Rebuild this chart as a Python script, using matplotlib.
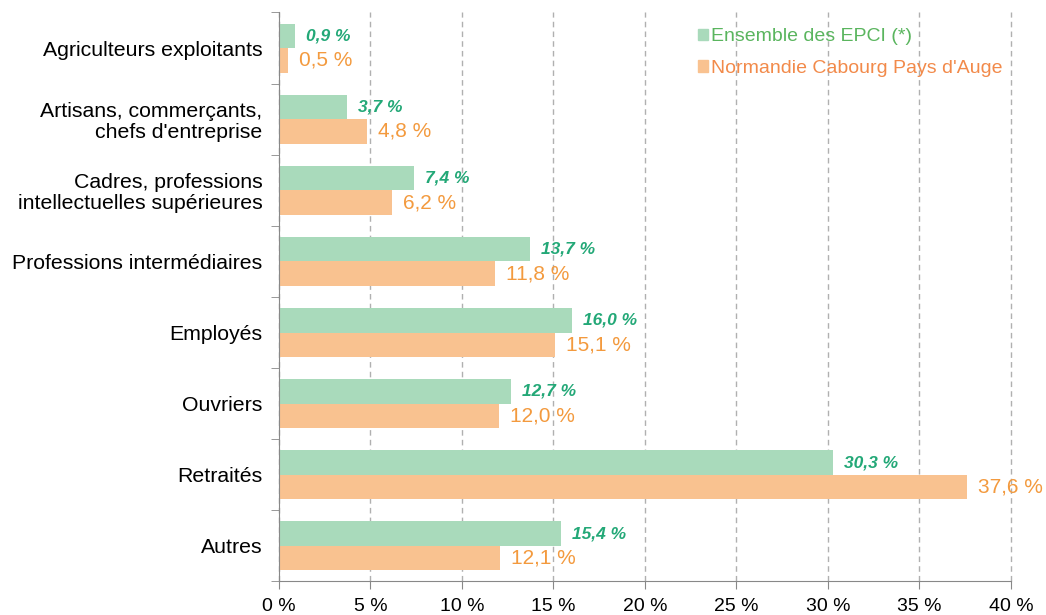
import numpy as np
import matplotlib.pyplot as plt
from matplotlib.patches import Patch

categories = ["Agriculteurs exploitants", "Artisans, commerçants,\nchefs d'entreprise",
              "Cadres, professions\nintellectuelles supérieures", "Professions intermédiaires",
              "Employés", "Ouvriers", "Retraités", "Autres"]
epci = [0.9, 3.7, 7.4, 13.7, 16.0, 12.7, 30.3, 15.4]
ncpa = [0.5, 4.8, 6.2, 11.8, 15.1, 12.0, 37.6, 12.1]
xticks = [0, 5, 10, 15, 20, 25, 30, 35, 40]

plt.rcParams['font.family'] = ['Liberation Sans', 'DejaVu Sans']

fig = plt.figure(figsize=(10.46, 6.15), dpi=100)
ax = fig.add_axes([0.2667, 0.0545, 0.6998, 0.9252])

green_bar = '#a9dabb'
orange_bar = '#f9c290'
green_txt = '#23a877'
orange_txt = '#f39a3e'

y = np.arange(len(categories))
h = 0.345
ax.barh(y - h / 2, epci, height=h, color=green_bar)
ax.barh(y + h / 2, ncpa, height=h, color=orange_bar)

for i in range(len(categories)):
    ax.text(epci[i] + 0.6, y[i] - h / 2, f"{epci[i]:.1f} %".replace('.', ','),
            va='center', ha='left', color=green_txt, fontsize=12.5,
            style='italic', fontweight='bold')
    ax.text(ncpa[i] + 0.6, y[i] + h / 2, f"{ncpa[i]:.1f} %".replace('.', ','),
            va='center', ha='left', color=orange_txt, fontsize=15)

ax.set_xlim(0, 40)
ax.set_ylim(len(categories) - 0.5, -0.5)
ax.set_xticks(xticks)
ax.set_xticklabels([f"{t} %" for t in xticks], fontsize=14)
ax.set_yticks(y)
ax.set_yticklabels(categories, fontsize=15.3, linespacing=1.1)
ax.tick_params(axis='y', length=0, pad=12)
ax.set_yticks(np.arange(-0.5, len(categories) + 0.5, 1), minor=True)
ax.tick_params(axis='y', which='minor', length=6, color='#888888')
ax.tick_params(axis='x', length=6, color='#888888', pad=6)

for s in ['top', 'right']:
    ax.spines[s].set_visible(False)
ax.spines['left'].set_color('#888888')
ax.spines['bottom'].set_color('#888888')
ax.xaxis.grid(True, linestyle=(0, (4, 3)), color='#b0b0b0', linewidth=1)
for gl in ax.get_xgridlines():
    gl.set_clip_on(False)
ax.set_axisbelow(True)

handles = [Patch(color=green_bar), Patch(color=orange_bar)]
leg = ax.legend(handles, ["Ensemble des EPCI (*)", "Normandie Cabourg Pays d'Auge"],
                loc='upper left', bbox_to_anchor=(0.548, 1.003), frameon=False,
                fontsize=14, handlelength=0.55, handleheight=0.55, handletextpad=0.15,
                labelspacing=0.75)
leg.get_texts()[0].set_color('#5ab55e')
leg.get_texts()[1].set_color('#f28a4a')

fig.savefig('out.png', dpi=100)
